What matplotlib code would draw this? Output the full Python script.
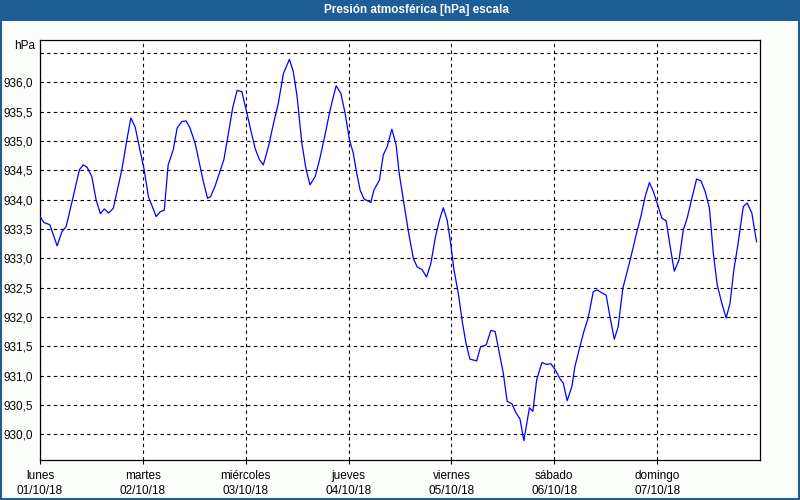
import matplotlib.pyplot as plt
import numpy as np
from matplotlib.patches import Rectangle

plt.rcParams['font.family'] = ['Liberation Sans', 'DejaVu Sans']

# Hours since 01/10/18 00:00 and pressure (hPa)
hours = [0, 0.9, 2.3, 4.0, 5.1, 6.1, 7.4, 9.2, 10.1, 11.0, 12.1, 13.1, 14.1, 15.0, 16.0, 17.1,
         19.1, 20.4, 21.2, 22.2, 23.3, 24.3, 25.3, 27.1, 28.0, 29.0, 29.9, 31.1, 32.0, 33.1,
         34.1, 35.0, 36.2, 37.2, 38.1, 39.1, 39.8, 40.8, 42.0, 42.9, 43.9, 45.0, 46.0, 47.1,
         48.1, 49.0, 50.2, 51.2, 52.1, 53.3, 54.4, 55.6, 56.8, 58.2, 59.1, 60.0, 61.1, 62.1,
         63.0, 64.2, 65.3, 66.5, 67.7, 69.1, 70.2, 71.2, 72.2, 73.1, 73.9, 74.7, 75.6, 77.2,
         77.9, 79.2, 80.1, 81.0, 82.1, 83.1, 83.8, 84.8, 85.9, 87.1, 88.0, 89.1, 90.2, 91.2,
         92.2, 93.2, 94.1, 95.0, 95.8, 96.6, 97.6, 98.6, 99.4, 100.3, 101.9, 102.8, 104.1,
         105.2, 106.2, 107.2, 108.1, 109.0, 110.1, 111.1, 112.0, 112.9, 113.6, 114.2, 115.0,
         115.9, 117.1, 118.2, 119.2, 120.2, 121.3, 122.1, 123.0, 124.1, 124.8, 125.8, 126.9,
         127.9, 129.1, 130.0, 131.1, 132.1, 133.0, 134.0, 134.9, 136.0, 137.0, 138.1, 139.1,
         140.2, 141.2, 142.2, 143.1, 144.0, 145.1, 146.1, 146.9, 148.0, 149.1, 150.1, 151.0,
         152.1, 153.2, 154.2, 155.2, 156.2, 157.1, 158.0, 159.1, 160.1, 161.0, 161.9, 162.9,
         164.1, 165.0, 166.1, 166.6, 167.2]
pressure = [933.71, 933.61, 933.57, 933.21, 933.45, 933.54, 933.94, 934.51, 934.59, 934.55,
            934.39, 933.99, 933.76, 933.84, 933.77, 933.85, 934.51, 935.07, 935.39, 935.24,
            934.85, 934.51, 934.05, 933.71, 933.79, 933.82, 934.59, 934.85, 935.22, 935.33,
            935.34, 935.22, 934.96, 934.62, 934.31, 934.02, 934.05, 934.22, 934.48, 934.68,
            935.10, 935.58, 935.86, 935.84, 935.53, 935.24, 934.87, 934.68, 934.59, 934.90,
            935.27, 935.64, 936.15, 936.39, 936.18, 935.75, 934.96, 934.51, 934.25, 934.39,
            934.70, 935.10, 935.53, 935.94, 935.81, 935.47, 935.02, 934.79, 934.45, 934.16,
            934.01, 933.95, 934.16, 934.33, 934.76, 934.90, 935.20, 934.93, 934.45, 933.99,
            933.48, 933.00, 932.85, 932.81, 932.68, 932.91, 933.34, 933.65, 933.86, 933.65,
            933.26, 932.80, 932.40, 931.89, 931.55, 931.28, 931.25, 931.49, 931.52, 931.77,
            931.75, 931.38, 931.04, 930.56, 930.52, 930.36, 930.26, 929.89, 930.19, 930.45,
            930.39, 930.93, 931.22, 931.19, 931.20, 931.10, 930.95, 930.87, 930.57, 930.81,
            931.15, 931.44, 931.75, 931.98, 932.43, 932.46, 932.41, 932.37, 932.00, 931.62,
            931.83, 932.49, 932.77, 933.09, 933.40, 933.71, 934.05, 934.29, 934.14, 933.94,
            933.68, 933.64, 933.26, 932.78, 932.97, 933.48, 933.68, 934.02, 934.35, 934.32,
            934.14, 933.85, 933.09, 932.55, 932.23, 931.98, 932.23, 932.80, 933.26, 933.88,
            933.94, 933.77, 933.54, 933.28]

day_names = ['lunes', 'martes', 'miércoles', 'jueves', 'viernes', 'sábado', 'domingo']
day_dates = ['01/10/18', '02/10/18', '03/10/18', '04/10/18', '05/10/18', '06/10/18', '07/10/18']
y_ticks = [930.0, 930.5, 931.0, 931.5, 932.0, 932.5, 933.0, 933.5, 934.0, 934.5, 935.0, 935.5, 936.0, 936.5]

blue_bar = '#1D5E96'

fig = plt.figure(figsize=(8, 5), dpi=100)
fig.patch.set_facecolor('#FCFEFC')

# title bar and outer border
fig.add_artist(Rectangle((0, 1 - 21 / 500), 1, 21 / 500, transform=fig.transFigure,
                         facecolor=blue_bar, edgecolor='none', zorder=0))
fig.add_artist(Rectangle((0.001, 0.002), 0.998, 0.997, transform=fig.transFigure,
                         facecolor='none', edgecolor=blue_bar, linewidth=1.5, zorder=5))
fig.text(416 / 800, 1 - 10.5 / 500, 'Presión atmosférica [hPa] escala', color='white',
         fontsize=8.5, fontweight='bold', ha='center', va='center')

ax = fig.add_axes([40 / 800, 40 / 500, 720 / 800, 420 / 500])
ax.set_facecolor('white')

days = np.array(hours) / 24.0
ax.plot(days, pressure, color='#0000FF', linewidth=0.9, zorder=3)

ax.set_xlim(0, 7)
ax.set_ylim(929.56, 936.72)

ax.set_xticks(range(7))
ax.set_xticklabels([n + '\n' + d for n, d in zip(day_names, day_dates)], fontsize=8.5,
                   linespacing=1.4)
ax.set_yticks(y_ticks)
ax.set_yticklabels([('%.1f' % v).replace('.', ',') if v < 936.4 else '' for v in y_ticks],
                   fontsize=8.5)
ax.tick_params(axis='x', length=3, width=0.8, pad=4, color='black')
ax.tick_params(axis='y', length=0, pad=5)

fig.text(35 / 800, 1 - 46 / 500, 'hPa', fontsize=8.5, ha='right', va='center')

ax.grid(True, color='black', linestyle=(0, (3, 3)), linewidth=0.8)
for s in ax.spines.values():
    s.set_color('black')
    s.set_linewidth(0.9)

fig.savefig('out.png', dpi=100, facecolor=fig.get_facecolor())
